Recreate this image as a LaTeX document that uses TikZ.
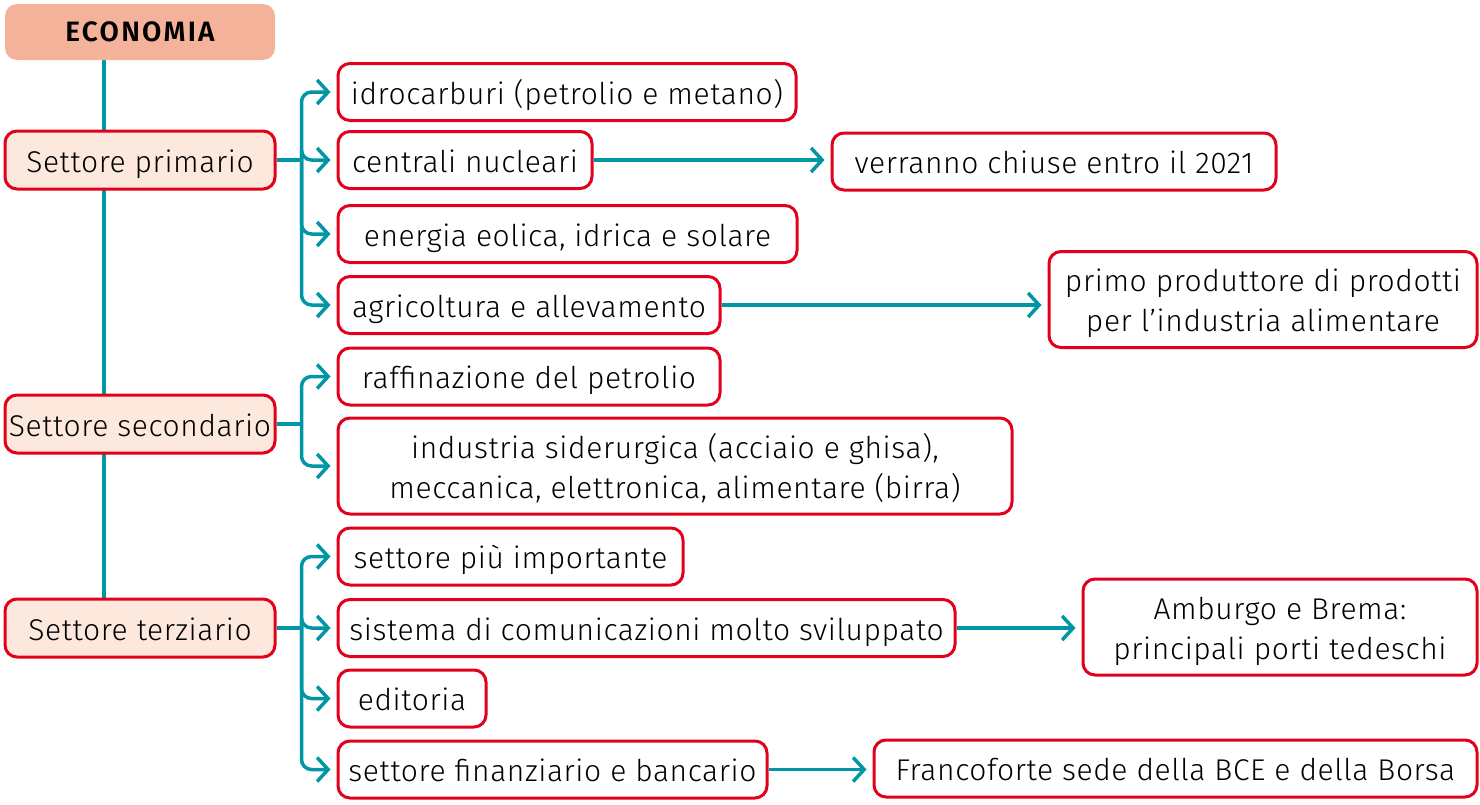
\documentclass[tikz,border=0pt]{standalone}
\usepackage{fontspec}
\setmainfont{Fira Sans}[UprightFont=* Light, BoldFont=* SemiBold, LetterSpace=2]
\usepackage{tikz}
\usetikzlibrary{arrows.meta,backgrounds}

\definecolor{RedLine}{RGB}{226,0,26}
\definecolor{Teal}{RGB}{0,150,166}
\definecolor{Salmon}{RGB}{244,178,154}
\definecolor{Peach}{RGB}{253,232,222}

\begin{document}
\begin{tikzpicture}[x=1pt,y=-1pt]
		\tikzstyle{Box}		= [draw=RedLine, line width=3pt, rounded corners=12pt, fill=white, minimum height=57pt, inner sep=0pt, text height=26pt, text depth=2pt, align=center, font=\fontsize{30}{40}\selectfont]
		\tikzstyle{Big}		= [minimum height=96pt, text height=66pt]
		\tikzstyle{Sector}	= [Box, fill=Peach, minimum width=270pt, minimum height=58pt]
		\tikzstyle{Title}	= [fill=Salmon, rounded corners=12pt, minimum width=270pt, minimum height=56pt, font=\fontsize{28}{36}\selectfont\bfseries\addfontfeature{LetterSpace=8}]
		\tikzstyle{Link}	= [Teal, line width=3.5pt]
		\tikzstyle{Arrow}	= [Link, -{Straight Barb[length=11pt,width=24pt,line width=3.5pt]}, shorten >=6pt]

		\useasboundingbox (0,0) rectangle (1480,804);

		% sectors
		\node (econ) at (140,32) [Title] {ECONOMIA};
		\node (prim) at (140,160) [Sector] {Settore primario};
		\node (sec) at (140,424) [Sector] {Settore secondario};
		\node (terz) at (140,628) [Sector] {Settore terziario};

		% primario
		\node (idro) at (567,92) [Box, minimum width=458pt] {idrocarburi (petrolio e metano)};
		\node (nucl) at (465,160) [Box, minimum width=254pt] {centrali nucleari};
		\node (eol) at (567.5,234) [Box, minimum width=459pt] {energia eolica, idrica e solare};
		\node (agri) at (529,305) [Box, minimum width=382pt] {agricoltura e allevamento};
		\node (chiuse) at (1054,161.5) [Box, minimum width=444pt] {verranno chiuse entro il 2021};
		\node (prod) at (1263,299.5) [Box, Big, minimum width=428pt] {primo produttore di prodotti\\per l’industria alimentare};

		% secondario
		\node (raff) at (529,376.5) [Box, minimum width=382pt] {raffinazione del petrolio};
		\node (indu) at (675,466) [Box, Big, minimum width=674pt] {industria siderurgica (acciaio e ghisa),\\meccanica, elettronica, alimentare (birra)};

		% terziario
		\node (imp) at (510.5,556.5) [Box, minimum width=345pt] {settore più importante};
		\node (sist) at (646.5,628) [Box, minimum width=617pt] {sistema di comunicazioni molto sviluppato};
		\node (edit) at (412,698.5) [Box, minimum width=148pt] {editoria};
		\node (fin) at (552.5,769.5) [Box, minimum width=429pt] {settore finanziario e bancario};
		\node (ambu) at (1280,627) [Box, Big, minimum width=394pt] {Amburgo e Brema:\\principali porti tedeschi};
		\node (franc) at (1175.5,768.5) [Box, minimum width=603pt] {Francoforte sede della BCE e della Borsa};

		\begin{scope}[on background layer]
			\coordinate (trunk) at (104,60);
			\draw [Link] (trunk) to (trunk |- terz.north);
		\end{scope}

		\draw [Link] (prim.east) -- ++(25,0) coordinate (pj);
		\draw [Link] (sec.east) -- ++(25,0) coordinate (sj);
		\draw [Link] (terz.east) -- ++(25,0) coordinate (tj);

		\foreach \to in {idro,nucl,eol,agri}
			\draw [Arrow, rounded corners=10pt] (pj) |- (\to.west);
		\foreach \to in {raff,indu}
			\draw [Arrow, rounded corners=10pt] (sj) |- (\to.west);
		\foreach \to in {imp,sist,edit,fin}
			\draw [Arrow, rounded corners=10pt] (tj) |- (\to.west);

		\draw [Arrow] (nucl.east) to (nucl.east -| chiuse.west);
		\draw [Arrow] (agri.east) to (agri.east -| prod.west);
		\draw [Arrow] (sist.east) to (sist.east -| ambu.west);
		\draw [Arrow] (fin.east) to (fin.east -| franc.west);
	\end{tikzpicture}
\end{document}
